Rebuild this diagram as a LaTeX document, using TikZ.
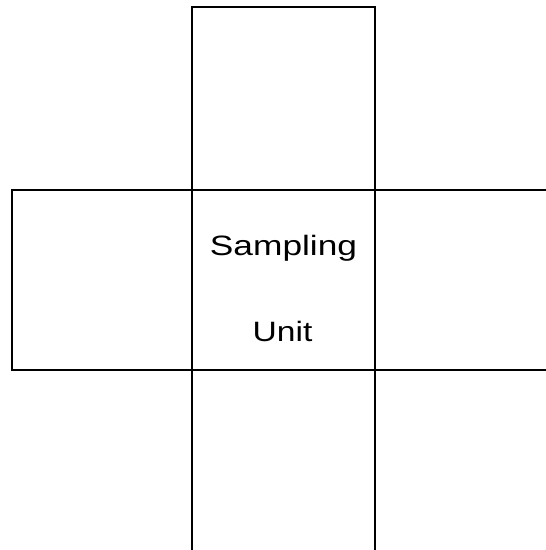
\documentclass[tikz,border=0pt]{standalone}
\usepackage{fontspec}
\setmainfont{Liberation Sans}
\usepackage{tikz}
\usetikzlibrary{positioning}
\tikzset{
  cell/.style={draw=black,line width=1.3bp,inner sep=0pt,outer sep=0pt,
    minimum width=183bp,minimum height=181bp},
  lbl/.style={inner sep=0pt,anchor=base,font=\fontsize{28bp}{34bp}\selectfont},
}
\begin{document}
\begin{tikzpicture}[x=1bp,y=-1bp]
\useasboundingbox (0,0) rectangle (546,550);
\clip (0,0) rectangle (546,550);
\node[cell,minimum height=180bp] (centre) at (283.5,280) {};
\node[cell,minimum height=183bp,above=0pt of centre] (top) {};
\node[cell,minimum height=183bp,below=0pt of centre] (bottom) {};
\node[cell,minimum width=180bp,minimum height=180bp,left=0pt of centre] (left) {};
\node[cell,minimum height=180bp,right=0pt of centre] (right) {};
\node[lbl] (samp) at (283.5,255) {\scalebox{1.26}[1]{Sampling}};
\node[lbl] (unit) at (282.5,341) {\scalebox{1.2}[1]{Unit}};
\end{tikzpicture}
\end{document}
